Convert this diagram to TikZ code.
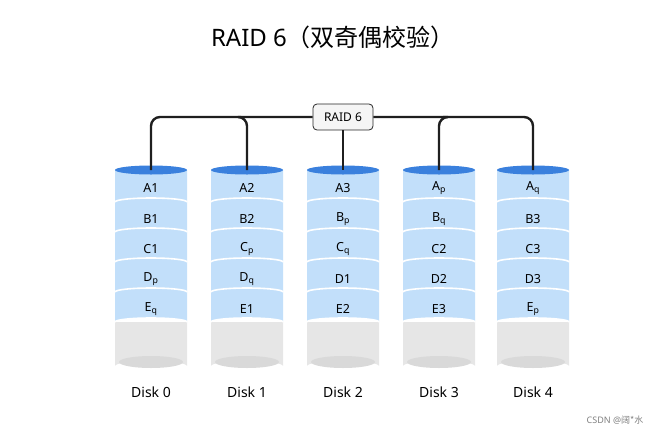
\documentclass[tikz,border=0pt]{standalone}
\usepackage{fontspec}
\setmainfont{Noto Sans}
\newfontfamily\cjk{Noto Sans CJK SC}
\definecolor{topblue}{HTML}{3A80DD}
\definecolor{segblue}{HTML}{C2DFFA}
\definecolor{emptygray}{HTML}{E6E6E6}
\definecolor{footgray}{HTML}{D9D9D9}
\newcommand{\sub}[1]{\textsubscript{#1}}
\begin{document}
\begin{tikzpicture}[x=1pt, y=-1pt,
  blk/.style = {font=\fontsize{12.5}{14}\selectfont},
  disklabel/.style = {font=\fontsize{14}{16}\selectfont},
  ctrl/.style = {draw=black!85, fill=black!4, rounded corners=4pt, line width=0.8pt,
    minimum width=60pt, minimum height=26pt, font=\fontsize{12}{14}\selectfont},
  wire/.style = {line width=2.4pt, black!88, rounded corners=9pt},
]
\useasboundingbox (0,0) rectangle (661,434);

\node[font=\fontsize{24}{28}\selectfont] (title) at (333,37) {RAID 6\cjk{（双奇偶校验）}};

\foreach \i/\x/\la/\lb/\lc/\ld/\le in {
  0/151/A1/B1/C1/D\sub{p}/E\sub{q},
  1/247/A2/B2/C\sub{p}/D\sub{q}/E1,
  2/343/A3/B\sub{p}/C\sub{q}/D1/E2,
  3/439/A\sub{p}/B\sub{q}/C2/D2/E3,
  4/533/A\sub{q}/B3/C3/D3/E\sub{p}} {
  % body
  \fill[emptygray] (\x-36,322) -- (\x-36,366) arc[start angle=180, end angle=360, x radius=36, y radius=5]
    -- (\x+36,322) -- cycle;
  \fill[footgray] (\x,362) ellipse[x radius=32, y radius=6];
  \fill[segblue] (\x-36,170) -- (\x-36,322) arc[start angle=180, end angle=360, x radius=36, y radius=4]
    -- (\x+36,170) -- cycle;
  \foreach \y in {202,232,262,292,322}
    \draw[white, line width=1.6pt] (\x-36,\y) arc[start angle=180, end angle=360, x radius=36, y radius=4];
  \fill[topblue] (\x,170) ellipse[x radius=36, y radius=4.5];
  \coordinate (top\i) at (\x,170);
  \node[blk] (a\i) at (\x,188) {\la};
  \node[blk] (b\i) at (\x,219) {\lb};
  \node[blk] (c\i) at (\x,249) {\lc};
  \node[blk] (d\i) at (\x,279) {\ld};
  \node[blk] (e\i) at (\x,309) {\le};
  \node[disklabel] (disk\i) at (\x,392) {Disk \i};
}

\node[ctrl] (raid) at (343,117) {RAID 6};

\draw[wire] (raid.west) -- (raid.west -| top0) -- (top0);
\draw[wire] (raid.west -| top0) ++(90,0) coordinate (j1) -- (j1 -| top1) -- (top1);
\draw[wire] (raid.east) -- (raid.east -| top4) -- (top4);
\draw[wire] (raid.east -| top4) ++(-90,0) coordinate (j3) -- (j3 -| top3) -- (top3);
\draw[wire] (raid.south) -- (top2);

\node[font=\fontsize{9}{10}\selectfont, black!50] (mark) at (615,420) {CSDN @\cjk{阔*水}};
\end{tikzpicture}
\end{document}
